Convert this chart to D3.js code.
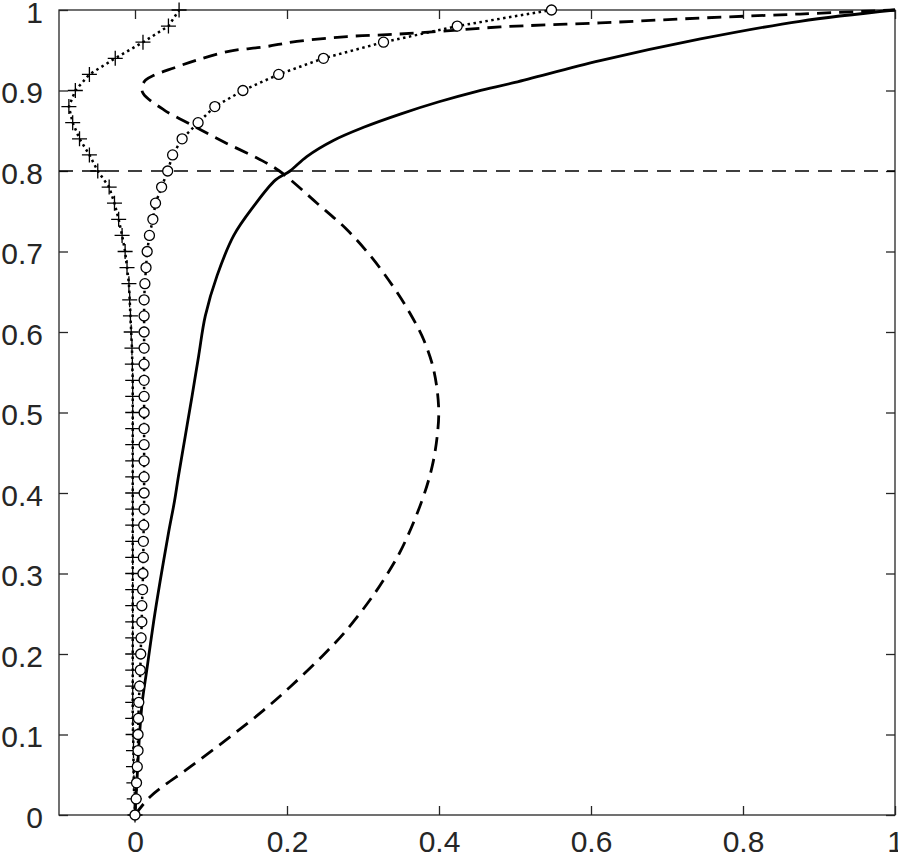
<!DOCTYPE html>
<html>
<head>
<meta charset="utf-8">
<script src="https://cdn.jsdelivr.net/npm/d3@7"></script>
<style>
    body { margin: 0; background: #fff; }
    svg { display: block; }
    .tick text { font-family: "Liberation Sans", Arial, sans-serif; font-size: 30px; fill: #262626; }
    .tick line { stroke: #262626; stroke-width: 1.3; }
    .frame { fill: none; stroke: #262626; stroke-width: 1.3; }
</style>
</head>
<body>
<div id="chart"></div>
<script>
// tick labels
const xTicks = [0, 0.2, 0.4, 0.6, 0.8, 1]
const yTicks = [0, 0.1, 0.2, 0.3, 0.4, 0.5, 0.6, 0.7, 0.8, 0.9, 1]

// solid curve
const solidX = [0, 0.003, 0.006, 0.0095, 0.0155, 0.0245, 0.033, 0.044, 0.052, 0.057, 0.066, 0.075, 0.0837,
    0.0925, 0.108, 0.130, 0.156, 0.185, 0.204, 0.226, 0.261, 0.30, 0.35, 0.40, 0.45, 0.50,
    0.612, 0.744, 0.875, 1.0]
const solidY = [0, 0.05, 0.10, 0.14, 0.18, 0.24, 0.29, 0.35, 0.39, 0.42, 0.47, 0.52, 0.57,
    0.62, 0.67, 0.72, 0.756, 0.789, 0.80, 0.818, 0.838, 0.854, 0.871, 0.886, 0.899, 0.910,
    0.937, 0.964, 0.986, 1.0]

// bold dashed curve
const dashX = [0, 0.020, 0.073, 0.125, 0.169, 0.204, 0.246, 0.275, 0.306, 0.327, 0.350, 0.377, 0.391, 0.398,
    0.3995, 0.393, 0.380, 0.362, 0.340, 0.312, 0.279, 0.2395, 0.19, 0.163, 0.117, 0.077, 0.038, 0.011,
    0.009, 0.014, 0.025, 0.051, 0.082, 0.125, 0.169, 0.213, 0.279, 0.345, 0.41, 0.481, 0.612, 0.744, 0.875, 1.0]
const dashY = [0, 0.0227, 0.060, 0.097, 0.130, 0.159, 0.197, 0.226, 0.263, 0.292, 0.329, 0.389, 0.433, 0.474,
    0.507, 0.553, 0.590, 0.623, 0.656, 0.692, 0.727, 0.760, 0.80, 0.815, 0.836, 0.856, 0.876, 0.896,
    0.904, 0.913, 0.919, 0.928, 0.938, 0.949, 0.954, 0.961, 0.967, 0.970, 0.974, 0.979, 0.984, 0.990, 0.995, 1.0]

// marker series, sampled at the same heights
const markerY = [0, 0.02, 0.04, 0.06, 0.08, 0.10, 0.12, 0.14, 0.16, 0.18, 0.20, 0.22, 0.24, 0.26, 0.28,
    0.30, 0.32, 0.34, 0.36, 0.38, 0.40, 0.42, 0.44, 0.46, 0.48, 0.50, 0.52, 0.54, 0.56, 0.58, 0.60,
    0.62, 0.64, 0.66, 0.68, 0.70, 0.72, 0.74, 0.76, 0.78, 0.80, 0.82, 0.84, 0.86, 0.88, 0.90, 0.92,
    0.94, 0.96, 0.98, 1.0]
const circleX = [0, 0.0015, 0.002, 0.003, 0.004, 0.004, 0.0045, 0.005, 0.006, 0.007, 0.0075, 0.008, 0.009,
    0.009, 0.010, 0.0105, 0.011, 0.011, 0.0115, 0.012, 0.012, 0.012, 0.012, 0.012, 0.012, 0.012, 0.012,
    0.012, 0.012, 0.012, 0.012, 0.012, 0.012, 0.013, 0.0145, 0.016, 0.019, 0.0235, 0.027, 0.035, 0.043,
    0.0495, 0.062, 0.083, 0.105, 0.142, 0.189, 0.248, 0.327, 0.424, 0.548]
const plusX = [0, -0.001, -0.0015, -0.002, -0.002, -0.0025, -0.003, -0.003, -0.003, -0.003, -0.003, -0.003,
    -0.003, -0.003, -0.003, -0.003, -0.003, -0.003, -0.003, -0.003, -0.003, -0.003, -0.003, -0.003, -0.003,
    -0.003, -0.003, -0.003, -0.0035, -0.004, -0.005, -0.006, -0.007, -0.008, -0.0105, -0.013, -0.017,
    -0.0215, -0.027, -0.034, -0.049, -0.06, -0.073, -0.082, -0.087, -0.0785, -0.06, -0.026, 0.0105,
    0.044, 0.058]

// reference level
const refLevel = 0.8

class ProfileChart {
    constructor() {
        this.DIMENSIONS = {
            width: 898,
            height: 857,
            margin_left: 59,
            margin_top: 10,
            margin_right: 3,
            margin_bottom: 42
        }
        this.DIMENSIONS.drawable_width = this.DIMENSIONS.width - this.DIMENSIONS.margin_left - this.DIMENSIONS.margin_right
        this.DIMENSIONS.drawable_height = this.DIMENSIONS.height - this.DIMENSIONS.margin_top - this.DIMENSIONS.margin_bottom

        this.svg = d3.select('#chart').append('svg')
            .attr('width', this.DIMENSIONS.width)
            .attr('height', this.DIMENSIONS.height)
        this.g = this.svg.append('g')
            .attr('transform', `translate(${this.DIMENSIONS.margin_left}, ${this.DIMENSIONS.margin_top})`)

        this.createScales()
        this.createAxes()
        this.drawLines()
        this.drawMarkers()
    }

    createScales() {
        this.xScale = d3.scaleLinear().domain([-0.1, 1]).range([0, this.DIMENSIONS.drawable_width])
        this.yScale = d3.scaleLinear().domain([0, 1]).range([this.DIMENSIONS.drawable_height, 0])
    }

    createAxes() {
        const w = this.DIMENSIONS.drawable_width
        const h = this.DIMENSIONS.drawable_height

        // inward ticks on all four sides, labels only bottom/left
        this.g.append('g')
            .attr('transform', `translate(0, ${h})`)
            .call(d3.axisBottom(this.xScale).tickValues(xTicks).tickSize(-9).tickPadding(16).tickFormat(d3.format('')))
            .call(g => g.select('.domain').remove())
        this.g.append('g')
            .call(d3.axisTop(this.xScale).tickValues(xTicks).tickSize(-9).tickFormat(''))
            .call(g => g.select('.domain').remove())
        this.g.append('g')
            .call(d3.axisLeft(this.yScale).tickValues(yTicks).tickSize(-9).tickPadding(16).tickFormat(d3.format('')))
            .call(g => g.select('.domain').remove())
            .call(g => g.selectAll('text').attr('dy', '0.4em'))
        this.g.append('g')
            .attr('transform', `translate(${w}, 0)`)
            .call(d3.axisRight(this.yScale).tickValues(yTicks).tickSize(-9).tickFormat(''))
            .call(g => g.select('.domain').remove())

        this.g.selectAll('.tick').attr('fill', null)
        this.g.selectAll('.tick line').attr('stroke', null)

        this.g.append('rect')
            .attr('class', 'frame')
            .attr('width', w)
            .attr('height', h)
    }

    drawLines() {
        const smooth = d3.line()
            .x(d => this.xScale(d[0]))
            .y(d => this.yScale(d[1]))
            .curve(d3.curveCatmullRom)
        const straight = d3.line()
            .x(d => this.xScale(d[0]))
            .y(d => this.yScale(d[1]))

        this.g.append('path')
            .datum(d3.zip(solidX, solidY))
            .attr('fill', 'none')
            .attr('stroke', '#000')
            .attr('stroke-width', 2.8)
            .attr('stroke-linejoin', 'round')
            .attr('d', smooth)

        this.g.append('path')
            .datum(d3.zip(dashX, dashY))
            .attr('fill', 'none')
            .attr('stroke', '#000')
            .attr('stroke-width', 2.8)
            .attr('stroke-dasharray', '14,8')
            .attr('d', smooth)

        this.g.append('path')
            .datum(d3.zip(circleX, markerY))
            .attr('fill', 'none')
            .attr('stroke', '#000')
            .attr('stroke-width', 2.5)
            .attr('stroke-dasharray', '2.5,3.5')
            .attr('d', straight)

        this.g.append('path')
            .datum(d3.zip(plusX, markerY))
            .attr('fill', 'none')
            .attr('stroke', '#000')
            .attr('stroke-width', 2.5)
            .attr('stroke-dasharray', '2.5,3.5')
            .attr('d', straight)

        this.g.append('line')
            .attr('x1', 0)
            .attr('x2', this.DIMENSIONS.drawable_width)
            .attr('y1', this.yScale(refLevel))
            .attr('y2', this.yScale(refLevel))
            .attr('stroke', '#000')
            .attr('stroke-width', 1.3)
            .attr('stroke-dasharray', '14,9')
    }

    drawMarkers() {
        this.g.selectAll('.plus-marker')
            .data(d3.zip(plusX, markerY))
            .join('path')
            .attr('class', 'plus-marker')
            .attr('transform', d => `translate(${this.xScale(d[0])}, ${this.yScale(d[1])})`)
            .attr('d', 'M-7.5,0H7.5M0,-7.5V7.5')
            .attr('stroke', '#000')
            .attr('stroke-width', 1.3)

        this.g.selectAll('.circle-marker')
            .data(d3.zip(circleX, markerY))
            .join('circle')
            .attr('class', 'circle-marker')
            .attr('cx', d => this.xScale(d[0]))
            .attr('cy', d => this.yScale(d[1]))
            .attr('r', 5)
            .attr('fill', '#fff')
            .attr('stroke', '#000')
            .attr('stroke-width', 1.3)
    }
}

new ProfileChart()
</script>
</body>
</html>
